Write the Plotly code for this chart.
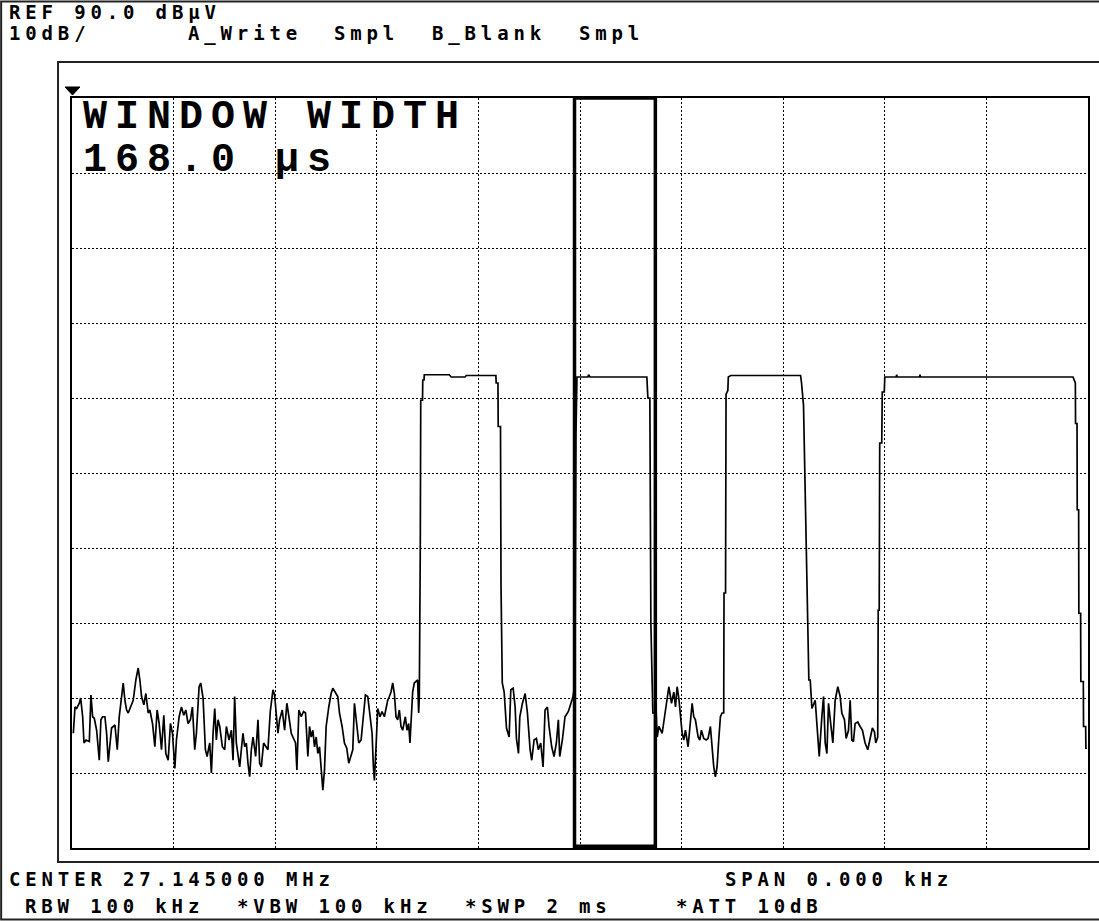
import plotly.graph_objects as go

# ---------------- data ----------------
REF_LEVEL_DBUV = 90.0
DB_PER_DIV = 10
N_DIV_Y = 10
SWEEP_US = 2000.0          # *SWP 2 ms
TIME_DIV_US = 200.0
window_start_us = 989.2    # gate window edges
window_stop_us = 1148.3

# noise floor before first burst
n1_t = [2.6, 5.9, 9.2, 14.4, 17.0, 21.0, 23.6, 27.5, 34.1, 37.3,
        40.6, 43.9, 48.5, 51.7, 53.7, 56.9, 60.2, 64.8, 68.1, 71.4,
        74.6, 77.9, 84.5, 89.1, 93.0, 97.6, 100.8, 104.1, 107.4, 110.7,
        115.3, 120.5, 125.7, 130.3, 133.6, 136.9, 141.4, 145.4, 150.0, 153.2,
        158.5, 163.1, 167.6, 171.6, 176.2, 180.7, 184.7, 189.3, 193.8, 197.8,
        202.4, 205.6, 210.9, 215.4, 220.0, 224.0, 228.5, 233.1, 237.1, 241.6,
        244.9, 250.2, 253.4, 258.0, 262.6, 265.9, 271.1, 274.4, 277.7, 281.0,
        284.2, 287.5, 290.8, 296.0, 300.6, 303.9, 309.1, 313.7, 317.0, 320.2,
        323.5, 326.8, 330.1, 333.3, 336.6, 339.9, 343.2, 346.4, 349.7, 353.0,
        356.3, 361.5, 366.1, 369.4, 372.6, 377.2, 382.5, 385.7, 390.3, 395.6,
        398.8, 402.1, 405.4, 408.7, 413.9, 418.5, 423.0, 427.0, 431.6, 434.8,
        440.1, 442.7, 446.6, 451.2, 455.8, 459.7, 464.3, 467.6, 470.9, 474.1,
        477.4, 480.7, 483.9, 487.2, 490.5, 493.8, 497.0, 500.3, 505.5, 510.1,
        513.4, 518.6, 523.2, 526.5, 531.7, 536.3, 540.9, 544.8, 549.4, 552.7,
        556.0, 560.6, 564.5, 569.1, 573.6, 577.6, 582.2, 586.7, 590.7, 593.3,
        595.3, 598.5, 601.8, 606.4, 610.3, 614.9, 621.5, 624.7, 628.0, 631.3,
        634.6, 637.8, 641.1, 644.4, 647.7, 650.9, 656.2, 659.4, 662.7, 665.3,
        668.0, 670.6, 673.8, 677.1, 680.4, 682.4, 683.7]
n1_v = [5.3, 8.8, 8.6, 9.3, 10.0, 7.5, 4.0, 4.4, 4.2, 10.4,
        7.5, 7.3, 5.7, 3.1, 1.7, 7.1, 7.5, 7.5, 5.3, 1.5,
        4.0, 6.0, 6.4, 3.1, 7.5, 10.4, 12.0, 9.7, 8.4, 8.0,
        8.8, 9.7, 12.4, 14.0, 12.4, 10.2, 9.1, 10.6, 8.0, 8.4,
        6.6, 3.5, 8.4, 6.6, 3.1, 7.7, 2.6, 1.7, 6.6, 5.3,
        0.6, 4.4, 7.5, 8.8, 7.7, 8.4, 6.6, 7.1, 8.8, 3.1,
        5.3, 11.5, 12.0, 10.0, 3.1, 2.2, 4.0, 0.0, 5.3, 8.6,
        4.4, 7.1, 6.2, 3.5, 3.1, 6.2, 4.4, 5.7, 1.7, 10.2,
        4.0, 2.2, 0.8, 3.1, 5.3, 3.5, 4.0, 1.3, -0.5, 3.1,
        4.8, 2.2, 7.1, 1.3, 0.8, 4.0, 3.5, 3.1, 8.2, 11.1,
        10.4, 7.5, 5.3, 7.1, 8.4, 5.7, 9.3, 7.5, 5.3, 4.8,
        4.0, 0.4, 8.4, 7.5, 8.2, 8.0, 2.2, 6.2, 4.8, 5.7,
        3.5, 4.8, 2.6, 3.5, 0.4, -2.3, 0.4, 6.2, 8.8, 10.6,
        11.3, 10.8, 10.2, 8.0, 6.2, 4.0, 3.3, 1.3, 2.2, 3.1,
        9.3, 6.2, 4.0, 4.4, 7.5, 10.4, 10.2, 7.5, 5.3, 0.8,
        -1.0, 3.5, 8.6, 7.5, 8.2, 7.5, 9.7, 10.2, 10.8, 12.0,
        10.6, 7.5, 7.1, 8.4, 6.2, 5.7, 7.5, 5.7, 6.6, 4.0,
        7.5, 10.8, 12.0, 12.2, 12.4, 8.0, 10.2]

# burst 1
p1_t = [685.6, 686.5, 690.0, 690.5, 693.0, 693.5, 742.6, 746.5, 774.0, 776.0,
        834.4, 835.0, 838.5, 839.0, 843.5, 844.5, 847.0]
p1_v = [30.0, 49.7, 49.7, 52.4, 52.4, 53.1, 53.1, 52.8, 52.8, 53.0,
        53.0, 52.0, 52.0, 46.2, 46.2, 25.0, 12.0]

# noise between burst 1 and 2
n2_t = [850.7, 855.3, 860.5, 863.8, 868.4, 872.3, 874.9, 878.9, 881.5, 886.7,
        892.0, 896.5, 901.8, 905.0, 909.6, 914.2, 918.1, 922.7, 927.3, 931.2,
        935.8, 939.1, 944.3, 948.9, 953.5, 957.4, 960.1, 965.3, 970.5, 977.1,
        981.7, 986.3]
n2_v = [10.8, 6.0, 4.8, 11.1, 11.3, 8.8, 4.6, 2.6, 7.5, 9.3,
        10.6, 8.0, 3.1, 1.7, 4.4, 4.6, 3.1, 4.0, 0.8, 8.4,
        8.8, 6.2, 3.5, 2.2, 4.0, 7.1, 2.2, 4.4, 7.5, 8.2,
        9.1, 10.2]

# burst 2 (inside the gate window)
p2_t = [990.0, 992.0, 994.0, 1015.7, 1017.0, 1019.6, 1131.6, 1133.6, 1137.5, 1139.5, 1143.4]
p2_v = [12.0, 45.0, 52.8, 52.8, 53.1, 52.8, 52.8, 50.0, 50.0, 20.0, 8.0]

# noise between burst 2 and 3
n3_t = [1150.0, 1152.0, 1155.2, 1161.8, 1167.0, 1171.6, 1174.9, 1180.1, 1184.7, 1188.0,
        1191.2, 1194.5, 1197.8, 1201.1, 1204.3, 1207.6, 1212.8, 1217.4, 1220.7, 1224.0,
        1227.2, 1232.5, 1235.8, 1239.0, 1243.6, 1248.2, 1252.1, 1256.7, 1260.0, 1263.3,
        1266.5, 1269.8, 1273.1, 1276.4, 1279.6]
n3_v = [8.0, 4.8, 6.2, 5.3, 8.0, 10.2, 11.5, 9.3, 10.8, 8.8,
        11.5, 10.0, 8.0, 5.3, 4.4, 5.7, 3.5, 7.5, 9.3, 7.5,
        7.1, 4.8, 4.4, 5.7, 4.6, 4.4, 4.6, 6.2, 3.5, 0.8,
        -0.5, 0.8, 4.4, 7.5, 8.0]

# burst 3
p3_t = [1282.9, 1283.5, 1286.5, 1287.5, 1291.0, 1292.0, 1296.6, 1434.2, 1436.1, 1440.0,
        1444.0, 1447.9, 1450.5]
p3_v = [8.0, 24.0, 24.0, 50.5, 51.0, 52.8, 53.0, 53.0, 52.0, 49.0,
        35.0, 20.0, 12.4]

# noise between burst 3 and 4
n4_t = [1453.2, 1456.5, 1463.0, 1468.2, 1470.9, 1476.1, 1479.4, 1482.7, 1486.0, 1489.2,
        1494.5, 1497.7, 1502.3, 1507.5, 1512.1, 1515.4, 1520.6, 1523.9, 1528.5, 1531.8,
        1535.1, 1538.3, 1541.6, 1546.8, 1551.4, 1556.0, 1561.2, 1566.5, 1571.1, 1575.6,
        1579.6, 1582.2, 1586.1]
n4_v = [12.4, 8.6, 9.7, 4.4, 2.2, 7.5, 10.2, 4.0, 2.6, 9.3,
        5.7, 4.0, 9.7, 11.5, 10.2, 8.0, 7.1, 4.6, 5.7, 9.7,
        4.4, 4.2, 6.6, 6.8, 6.2, 5.7, 4.0, 3.1, 4.6, 6.0,
        5.5, 4.0, 4.8]

# burst 4 (long)
p4_t = [1587.0, 1589.0, 1590.0, 1594.0, 1595.0, 1599.0, 1600.0, 1622.5, 1623.4, 1624.3,
        1668.4, 1669.3, 1670.2, 1970.5, 1973.8, 1975.1, 1975.5, 1978.4, 1978.8, 1981.6,
        1982.0, 1985.5, 1985.9, 1990.8, 1991.2, 1995.4, 1995.8, 1998.0]
p4_v = [21.7, 21.7, 44.0, 44.0, 50.8, 50.8, 52.8, 52.8, 53.1, 52.8,
        52.8, 53.1, 52.8, 52.8, 52.0, 52.0, 46.6, 46.6, 35.1, 35.1,
        21.3, 21.3, 12.2, 12.2, 6.2, 6.2, 3.3, 3.3]

segments_t = [n1_t, p1_t, n2_t, p2_t, n3_t, p3_t, n4_t, p4_t]
segments_v = [n1_v, p1_v, n2_v, p2_v, n3_v, p3_v, n4_v, p4_v]
time_us = [t for seg in segments_t for t in seg]
level_dbuv = [v for seg in segments_v for v in seg]

# header / footer texts
hdr_ref = "REF 90.0 dBµV"
hdr_scale = "10dB/"
hdr_traces = ["A_Write", "Smpl", "B_Blank", "Smpl"]
win_title = "WINDOW WIDTH"
win_value = "168.0 µs"
ftr_row1 = ["CENTER 27.145000 MHz", "SPAN 0.000 kHz"]
ftr_row2 = ["RBW 100 kHz", "*VBW 100 kHz", "*SWP 2 ms", "*ATT 10dB"]

# ---------------- figure ----------------
W, H = 1099, 921
L, R, T, B = 72, 1090, 98, 848


def px(x):
    return (x - L) / (R - L)


def py(y):
    return (B - y) / (B - T)


y_min = REF_LEVEL_DBUV - DB_PER_DIV * N_DIV_Y

fig = go.Figure()
fig.add_trace(go.Scatter(
    x=time_us, y=level_dbuv, mode="lines",
    line=dict(color="#000000", width=1.7),
    hoverinfo="skip", showlegend=False,
))

axis_common = dict(
    showgrid=True, gridcolor="#000000", gridwidth=1, griddash="2px,2px",
    showline=True, linecolor="#000000", linewidth=2, mirror=True,
    zeroline=False, showticklabels=False, ticks="", fixedrange=True,
)
fig.update_xaxes(range=[0, SWEEP_US], dtick=TIME_DIV_US, tick0=0, **axis_common)
fig.update_yaxes(range=[y_min, REF_LEVEL_DBUV], dtick=DB_PER_DIV, tick0=y_min, **axis_common)

shapes = []
# gate window
shapes.append(dict(type="rect", xref="x", yref="y",
                   x0=window_start_us, x1=window_stop_us, y0=y_min + 0.25, y1=REF_LEVEL_DBUV,
                   line=dict(color="#000000", width=3.5)))
# outer frame of the display
shapes.append(dict(type="rect", xref="paper", yref="paper",
                   x0=px(58), x1=px(1112), y0=py(862), y1=py(62),
                   line=dict(color="#222222", width=2)))
# screenshot border
shapes.append(dict(type="rect", xref="paper", yref="paper",
                   x0=px(1), x1=px(1112), y0=py(919.5), y1=py(1.5),
                   line=dict(color="#222222", width=2)))
# reference level marker
shapes.append(dict(type="path", xref="paper", yref="paper",
                   path=f"M {px(65)},{py(87)} L {px(80)},{py(87)} L {px(72.5)},{py(95)} Z",
                   fillcolor="#000000", line=dict(color="#000000", width=1)))

SMALL = dict(family="DejaVu Sans Mono", size=19, color="#000000", weight="bold")
BIG = dict(family="Liberation Mono", size=40, color="#000000", weight="bold")
CELL = 16.3


def small(text, col, y):
    return dict(text=f'<span style="letter-spacing:4.85px">{text}</span>',
                x=px(8 + col * CELL), y=py(y), xref="paper", yref="paper",
                xanchor="left", yanchor="middle", showarrow=False, font=SMALL,
                borderpad=0)


def big(text, x, y):
    return dict(text=f'<span style="letter-spacing:8px">{text}</span>',
                x=px(x), y=py(y), xref="paper", yref="paper",
                xanchor="left", yanchor="middle", showarrow=False, font=BIG,
                borderpad=0)


annotations = [
    small(hdr_ref, 0, 12),
    small(hdr_scale, 0, 33.5),
    small(hdr_traces[0], 11, 33.5),
    small(hdr_traces[1], 20, 33.5),
    small(hdr_traces[2], 26, 33.5),
    small(hdr_traces[3], 35, 33.5),
    small(ftr_row1[0], 0, 879),
    small(ftr_row1[1], 44, 879),
    small(ftr_row2[0], 1, 906),
    small(ftr_row2[1], 14, 906),
    small(ftr_row2[2], 28, 906),
    small(ftr_row2[3], 41, 906),
    big(win_title, 82, 118),
    big(win_value, 82, 160),
]

fig.update_layout(
    width=W, height=H,
    margin=dict(l=L, r=W - R, t=T, b=H - B, pad=0),
    paper_bgcolor="#ffffff", plot_bgcolor="#ffffff",
    showlegend=False,
    shapes=shapes, annotations=annotations,
)

fig.write_html(
    "out.html",
    config={"displayModeBar": False, "staticPlot": True},
    post_script="document.body.style.margin='0';document.body.style.overflow='hidden';",
)
